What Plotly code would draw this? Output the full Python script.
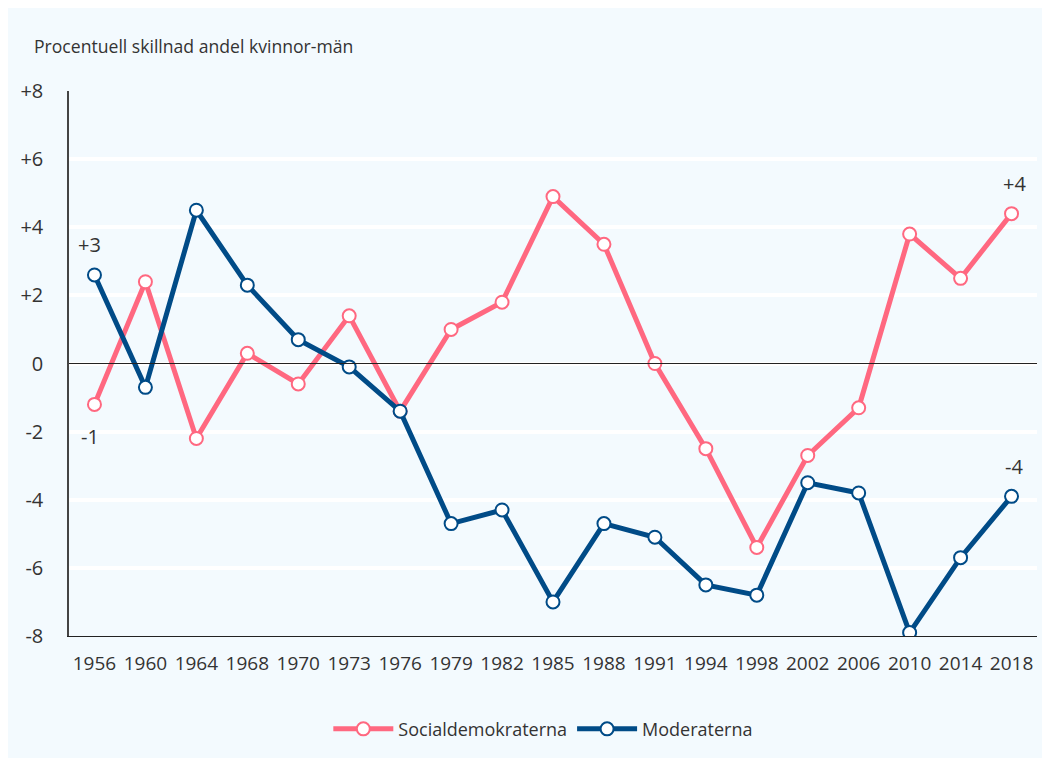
import plotly.graph_objects as go

years = ['1956', '1960', '1964', '1968', '1970', '1973', '1976', '1979', '1982', '1985',
         '1988', '1991', '1994', '1998', '2002', '2006', '2010', '2014', '2018']
socialdemokraterna = [-1.2, 2.4, -2.2, 0.3, -0.6, 1.4, -1.4, 1.0, 1.8, 4.9,
                      3.5, 0.0, -2.5, -5.4, -2.7, -1.3, 3.8, 2.5, 4.4]
moderaterna = [2.6, -0.7, 4.5, 2.3, 0.7, -0.1, -1.4, -4.7, -4.3, -7.0,
               -4.7, -5.1, -6.5, -6.8, -3.5, -3.8, -7.9, -5.7, -3.9]
ytick_vals = [8, 6, 4, 2, 0, -2, -4, -6, -8]
ytick_text = ['+8', '+6', '+4', '+2', '0', '-2', '-4', '-6', '-8']

PINK = '#FF6880'
BLUE = '#004B87'
BG = '#F3FAFE'
FONT = 'Open Sans'
TXT = '#333333'

fig = go.Figure()
for name, vals, col in [('Socialdemokraterna', socialdemokraterna, PINK),
                        ('Moderaterna', moderaterna, BLUE)]:
    fig.add_trace(go.Scatter(
        x=years, y=vals, name=name, mode='lines+markers',
        line=dict(color=col, width=5),
        marker=dict(size=13, color='white', line=dict(color=col, width=2)),
    ))

# end labels (category index on x)
last = len(years) - 1
labels = [(0, moderaterna[0], '+3', 30, -5),
          (0, socialdemokraterna[0], '-1', -32, -4),
          (last, socialdemokraterna[-1], '+4', 30, 3),
          (last, moderaterna[-1], '-4', 30, 2)]
for x, y, t, ys, xs in labels:
    fig.add_annotation(x=x, y=y, text=t, showarrow=False, yshift=ys, xshift=xs,
                       font=dict(size=20, color=TXT, family=FONT))

fig.add_annotation(text='Procentuell skillnad andel kvinnor-män', xref='paper', yref='paper',
                   x=-0.038, y=1.083, xanchor='left', yanchor='middle', showarrow=False,
                   font=dict(size=17.6, color=TXT, family=FONT))

fig.add_hline(y=0, line=dict(color='#222222', width=1))

fig.update_layout(
    width=1050, height=758,
    paper_bgcolor=BG, plot_bgcolor=BG,
    margin=dict(l=58, r=21, t=83, b=130),
    font=dict(family=FONT, size=19, color=TXT),
    showlegend=True,
    legend=dict(orientation='h', x=0.49, xanchor='center', y=-0.137, yanchor='top',
                font=dict(size=18, color=TXT), itemwidth=60, bgcolor='rgba(0,0,0,0)'),
)

fig.update_xaxes(type='category', range=[-0.5, 18.5], showgrid=False, zeroline=False,
                 showline=True, linecolor='#222222', linewidth=1, ticks='',
                 tickfont=dict(size=19), ticklabelstandoff=10)
fig.update_yaxes(range=[-8, 8], tickvals=ytick_vals, ticktext=ytick_text,
                 showgrid=True, gridcolor='white', gridwidth=4, zeroline=False,
                 showline=True, linecolor='#444444', linewidth=1.5, ticks='',
                 tickfont=dict(size=20), ticklabelstandoff=20)

fig.write_html('out.html')
